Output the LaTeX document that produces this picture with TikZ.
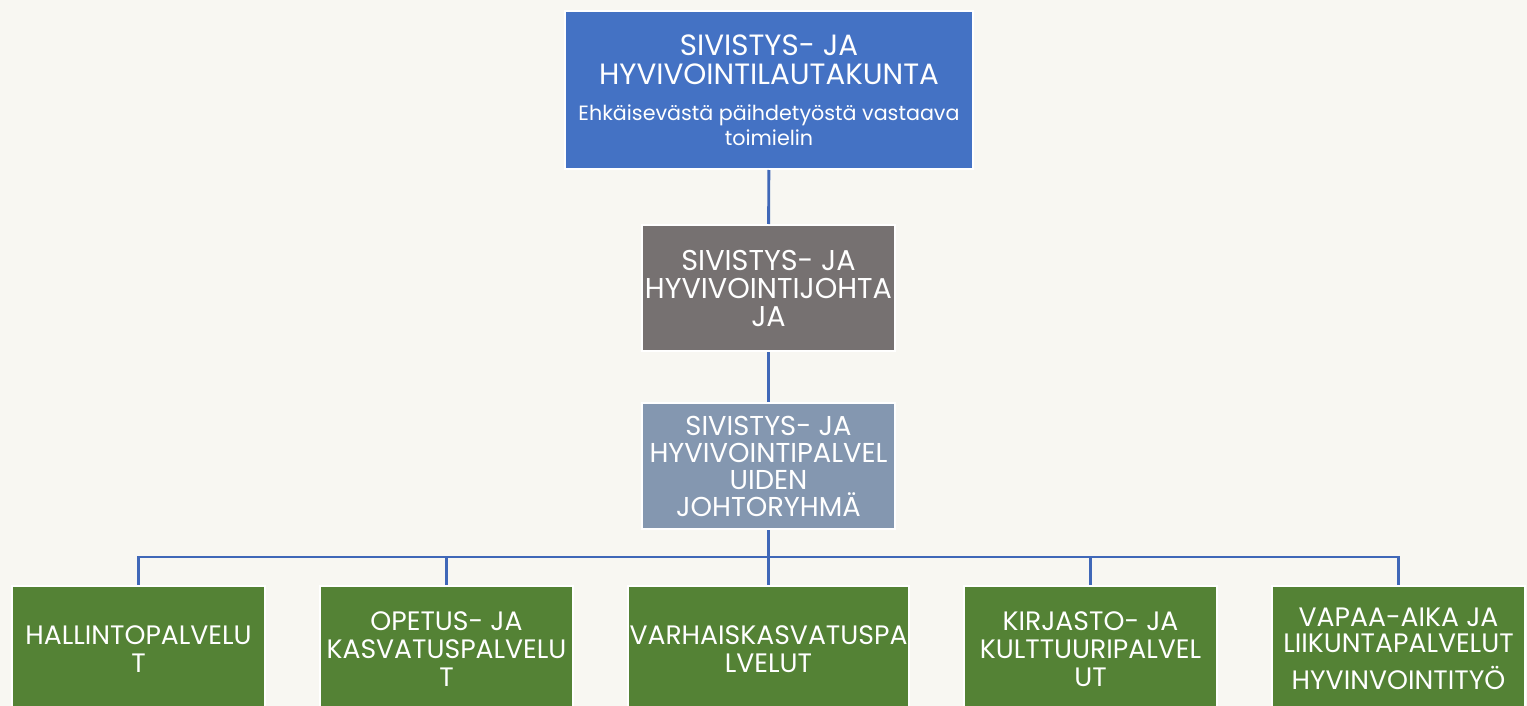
\documentclass[tikz,border=0pt]{standalone}
\usepackage{fontspec}
\setmainfont{Poppins}
\definecolor{boardblue}{HTML}{4472C4}
\definecolor{headgray}{HTML}{767171}
\definecolor{groupblue}{HTML}{8497B0}
\definecolor{unitgreen}{HTML}{548235}
\definecolor{linkblue}{HTML}{4068B8}
\definecolor{paper}{HTML}{F8F7F2}
\newcommand{\subfont}{\fontsize{15.5}{18.75}\selectfont}

\begin{document}
\begin{tikzpicture}
    [x=0.75pt,y=-0.75pt,
     orgbox/.style={draw=white,line width=1.5pt,inner sep=0pt,text=white,align=center,
       minimum width=189.75pt,minimum height=94.5pt,font=\fontsize{21.5}{21}\selectfont},
     unitbox/.style={orgbox,fill=unitgreen,font=\fontsize{20}{21}\selectfont},
     link/.style={draw=linkblue,line width=2.2pt}]
%frame of the page
\useasboundingbox (0,0) rectangle (1527,706);
\fill[paper] (0,0) rectangle (1527,706);
\clip (0,0) rectangle (1527,706);
%upper chain
\node[orgbox,fill=boardblue,minimum width=306pt,minimum height=118.5pt,font=\fontsize{22}{21.75}\selectfont] (board) at (769,90)
  {SIVISTYS- JA\\HYVIVOINTILAUTAKUNTA\\[5pt]
   \subfont Ehkäisevästä päihdetyöstä vastaava\\[-3pt]\subfont toimielin};
\node[orgbox,fill=headgray] (head) at (768.5,288) {SIVISTYS- JA\\HYVIVOINTIJOHTA\\JA};
\node[orgbox,fill=groupblue,font=\fontsize{20.5}{20.25}\selectfont] (group) at (768.5,466)
  {SIVISTYS- JA\\HYVIVOINTIPALVEL\\UIDEN\\JOHTORYHMÄ};
%units
\node[unitbox] (admin) at (138.5,649) {HALLINTOPALVELU\\T};
\node[unitbox] (school) at (446.5,649) {OPETUS- JA\\KASVATUSPALVELU\\T};
\node[unitbox,minimum width=210.75pt] (early) at (768.5,649) {VARHAISKASVATUSPA\\LVELUT};
\node[unitbox] (library) at (1090.5,649) {KIRJASTO- JA\\KULTTUURIPALVEL\\UT};
\node[unitbox,font=\fontsize{20}{19.5}\selectfont] (leisure) at (1398.5,649)
  {VAPAA-AIKA JA\\LIIKUNTAPALVELUT\\[8pt]HYVINVOINTITYÖ};
%connectors
\coordinate (bus) at (768.5,557);
\draw[link] (board) -- (head);
\draw[link] (head) -- (group);
\draw[link] (group) -- (bus);
\foreach \u in {admin,school,early,library,leisure}
  \draw[link] (bus) -| (\u.north);
\end{tikzpicture}
\end{document}
